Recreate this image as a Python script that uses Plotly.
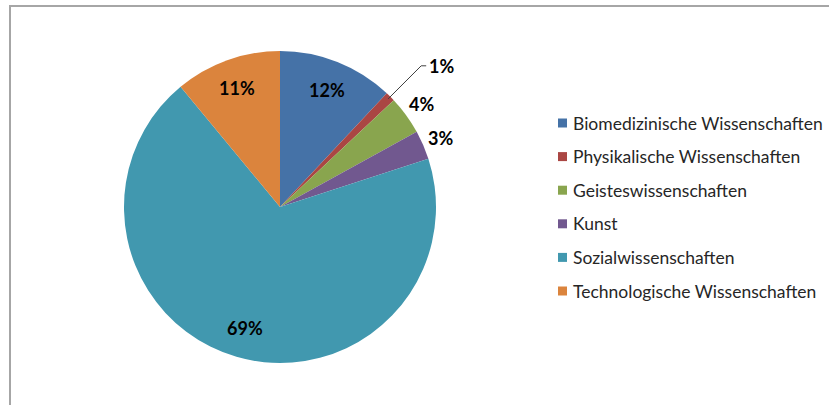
import math
import plotly.graph_objects as go

# ---- data ----
categories = [
    "Biomedizinische Wissenschaften",
    "Physikalische Wissenschaften",
    "Geisteswissenschaften",
    "Kunst",
    "Sozialwissenschaften",
    "Technologische Wissenschaften",
]
values = [12, 1, 4, 3, 69, 11]
colors = ["#4572A7", "#AA4643", "#89A54E", "#71588F", "#4198AF", "#DB843D"]

W, H = 829, 405
CX, CY, R = 280, 207, 156  # pie centre / radius in pixels

def px(x):
    return x / W

def py(y):
    return 1 - y / H

fig = go.Figure(
    go.Pie(
        labels=categories,
        values=values,
        marker=dict(colors=colors, line=dict(width=0)),
        sort=False,
        direction="clockwise",
        rotation=0,
        textinfo="none",
        hoverinfo="label+percent",
        showlegend=False,
        domain=dict(x=[px(CX - R), px(CX + R)], y=[py(CY + R), py(CY - R)]),
    )
)

annotations = []
shapes = []
total = sum(values)
cum = 0
label_font = dict(family="Lato, 'Open Sans', sans-serif", size=18, color="#000000")
for i, v in enumerate(values):
    theta = math.radians(360 * (cum + v / 2) / total)
    cum += v
    txt = f"<b>{round(100 * v / total)}%</b>"
    if v >= 10:
        r = 0.81 * R
        x = CX + r * math.sin(theta)
        y = CY - r * math.cos(theta)
        annotations.append(dict(x=px(x), y=py(y), xref="paper", yref="paper", text=txt,
                                xanchor="center", yanchor="middle",
                                showarrow=False, font=label_font))
    elif v == min(values):
        x0 = CX + 0.98 * R * math.sin(theta)
        y0 = CY - 0.98 * R * math.cos(theta)
        x1 = CX + 1.28 * R * math.sin(theta)
        y1 = CY - 1.28 * R * math.cos(theta)
        x2 = x1 + 5
        shapes.append(dict(type="path", xref="paper", yref="paper",
                           path=f"M {px(x0)},{py(y0)} L {px(x1)},{py(y1)} L {px(x2)},{py(y1)}",
                           line=dict(color="#404040", width=1)))
        annotations.append(dict(x=px(x2 + 1), y=py(y1), xref="paper", yref="paper", text=txt,
                                xanchor="left", yanchor="middle", showarrow=False, font=label_font))
    else:
        r = 1.12 * R
        x = CX + r * math.sin(theta)
        y = CY - r * math.cos(theta)
        annotations.append(dict(x=px(x), y=py(y), xref="paper", yref="paper", text=txt,
                                xanchor="center", yanchor="middle",
                                showarrow=False, font=label_font))

# ---- legend (drawn from the category list) ----
LX, LY0, LDY, SQ = 558, 123, 33.6, 9
for i, (cat, col) in enumerate(zip(categories, colors)):
    yc = LY0 + i * LDY
    shapes.append(dict(type="rect", xref="paper", yref="paper",
                       x0=px(LX), x1=px(LX + SQ), y0=py(yc + SQ / 2), y1=py(yc - SQ / 2),
                       fillcolor=col, line=dict(width=0)))
    annotations.append(dict(x=px(LX + SQ + 4), y=py(yc), xref="paper", yref="paper",
                            text=cat, xanchor="left", yanchor="middle", showarrow=False,
                            font=dict(family="Lato, 'Open Sans', sans-serif", size=17.5, color="#262626")))

# ---- outer frame ----
shapes.append(dict(type="path", xref="paper", yref="paper",
                   path=f"M {px(10)},{py(H + 5)} L {px(10)},{py(6)} L {px(W + 5)},{py(6)}",
                   line=dict(color="#A6A6A6", width=2)))

fig.update_layout(
    width=W,
    height=H,
    margin=dict(l=0, r=0, t=0, b=0),
    paper_bgcolor="white",
    plot_bgcolor="white",
    annotations=annotations,
    shapes=shapes,
)

fig.write_html(
    "out.html",
    config={"displayModeBar": False},
    post_script="document.body.style.margin='0';document.body.style.overflow='hidden';",
)
